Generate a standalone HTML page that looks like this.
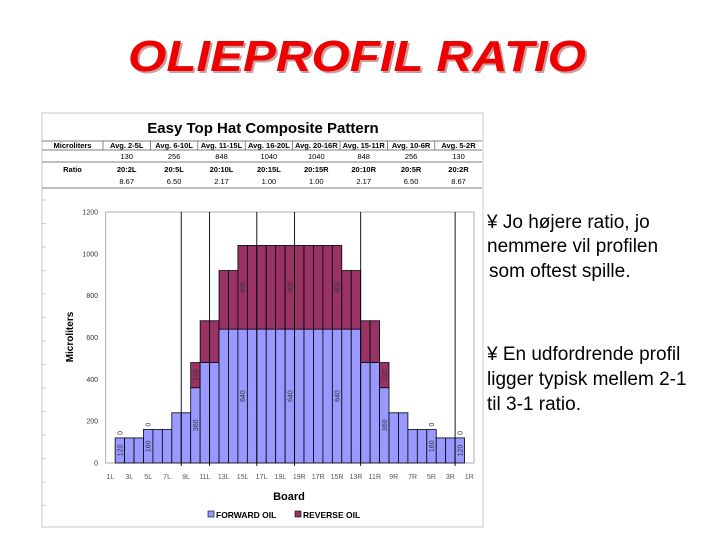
<!DOCTYPE html>
<html><head><meta charset="utf-8"><style>
html,body{margin:0;padding:0;background:#fff;}
svg{display:block;}
text{font-family:"Liberation Sans",Arial,sans-serif;}
</style></head><body>
<svg id="s" width="720" height="540" viewBox="0 0 720 540" xmlns="http://www.w3.org/2000/svg">
<text x="359" y="73" font-size="44" font-weight="bold" font-style="italic" fill="#c8a0a0" text-anchor="middle" textLength="458" lengthAdjust="spacingAndGlyphs">OLIEPROFIL RATIO</text>
<text x="357" y="71" font-size="44" font-weight="bold" font-style="italic" fill="#ee0000" text-anchor="middle" textLength="458" lengthAdjust="spacingAndGlyphs">OLIEPROFIL RATIO</text>

<g font-size="19" fill="#000">
<text x="487" y="228">&#165; Jo højere ratio, jo</text>
<text x="487" y="252">nemmere vil profilen</text>
<text x="489" y="277"> som oftest spille.</text>
<text x="487" y="360">&#165; En udfordrende profil</text>
<text x="487" y="385">ligger typisk mellem 2-1</text>
<text x="487" y="410">til 3-1 ratio.</text>
</g>

<rect x="42" y="113" width="441" height="414" fill="#fff" stroke="#c8c8c8"/>
<text x="263" y="133" font-size="15" font-weight="bold" text-anchor="middle">Easy Top Hat Composite Pattern</text>
<g id="table" font-size="7.5" text-anchor="middle"></g>
<g id="chart"></g>
</svg>
<script>
const boards = ["1L","2L","3L","4L","5L","6L","7L","8L","9L","10L","11L","12L","13L","14L","15L","16L","17L","18L","19L","20","19R","18R","17R","16R","15R","14R","13R","12R","11R","10R","9R","8R","7R","6R","5R","4R","3R","2R","1R"];
const forwardOil = [0,120,120,120,160,160,160,240,240,360,480,480,640,640,640,640,640,640,640,640,640,640,640,640,640,640,640,480,480,360,240,240,160,160,160,120,120,120,0];
const reverseOil = [0,0,0,0,0,0,0,0,0,120,200,200,280,280,400,400,400,400,400,400,400,400,400,400,400,280,280,200,200,120,0,0,0,0,0,0,0,0,0];
const yTicks = [0,200,400,600,800,1000,1200];
const tableHead = ["Microliters","Avg. 2-5L","Avg. 6-10L","Avg. 11-15L","Avg. 16-20L","Avg. 20-16R","Avg. 15-11R","Avg. 10-6R","Avg. 5-2R"];
const tableVals = ["","130","256","848","1040","1040","848","256","130"];
const tableRatio = ["Ratio","20:2L","20:5L","20:10L","20:15L","20:15R","20:10R","20:5R","20:2R"];
const tableRatioNum = ["","8.67","6.50","2.17","1.00","1.00","2.17","6.50","8.67"];

const NS="http://www.w3.org/2000/svg";
function mk(p,tag,a,txt){const e=document.createElementNS(NS,tag);for(const k in a)e.setAttribute(k,a[k]);if(txt!==undefined)e.textContent=txt;p.appendChild(e);return e;}

// table
const tb=document.getElementById('table');
const colX=[42,103];for(let i=1;i<=8;i++)colX.push(103+i*47.4);
const rowY=[141,150,162,188];
for(const y of rowY){const l=mk(tb,'line',{x1:42,x2:482,y1:y,y2:y,stroke:'#555','stroke-width':0.7});

}
for(const x of colX.slice(1,-1)){const l=mk(tb,'line',{x1:x,x2:x,y1:141,y2:150,stroke:'#555','stroke-width':0.7});

}
for(let i=0;i<9;i++){const cx=(colX[i]+colX[i+1])/2;
const a=mk(tb,'text',{x:cx,y:148,'font-weight':'bold'},tableHead[i]);


const b=mk(tb,'text',{x:cx,y:159},tableVals[i]);


const c=mk(tb,'text',{x:cx,y:172,'font-weight':'bold'},tableRatio[i]);


const d=mk(tb,'text',{x:cx,y:184},tableRatioNum[i]);

}

// chart
const g=document.getElementById('chart');
const X0=105.7,X1=474,Y0=463,Y1=212,YMAX=1200;
const cw=(X1-X0)/boards.length;
const xs=i=>X0+cw*i;
const ys=v=>Y0-(v/YMAX)*(Y0-Y1);
for(let i=0;i<14;i++){const l=mk(g,'line',{x1:42,x2:46,y1:200+i*23.5,y2:200+i*23.5,stroke:'#ccc'});

}
const pa=mk(g,'rect',{x:X0,y:Y1,width:X1-X0,height:Y0-Y1,fill:'#fff',stroke:'#999','stroke-width':0.8});


for(const t of yTicks){const tx=mk(g,'text',{x:98,y:ys(t)+2.5,'font-size':7,'text-anchor':'end',fill:'#333'},String(t));

}
for(let i=0;i<boards.length;i++){
 const f=forwardOil[i],r=reverseOil[i];
 if(f>0){const b=mk(g,'rect',{x:xs(i),y:ys(f),width:cw,height:Y0-ys(f),fill:'#9999ff',stroke:'#000','stroke-width':0.8});
 
 }
 if(r>0){const b=mk(g,'rect',{x:xs(i),y:ys(f+r),width:cw,height:ys(f)-ys(f+r),fill:'#993366',stroke:'#000','stroke-width':0.8});
 
 }
}
// data labels on selected boards
const labelIdx=[1,4,9,14,19,24,29,34,37];
for(const i of labelIdx){
 const cx=xs(i)+cw/2+2.5;
 const f=forwardOil[i],r=reverseOil[i];
 const fy=f>400?ys(f/2):(ys(f)+Y0)/2;
 const t=mk(g,'text',{x:cx,y:fy,'font-size':7,'text-anchor':'middle',fill:'#333',transform:`rotate(-90 ${cx} ${fy})`},String(f));
 
 
 const ry=r>0?(ys(f)+ys(f+r))/2:ys(f)-5;
 const t2=mk(g,'text',{x:cx,y:ry,'font-size':7,'text-anchor':'middle',fill:'#333',transform:`rotate(-90 ${cx} ${ry})`},String(r));
 
 
}
const lineAt=[8,11,16,20,27,37];
for(const k of lineAt){const l=mk(g,'line',{x1:xs(k),x2:xs(k),y1:Y1,y2:Y0+3,stroke:'#000','stroke-width':0.9});

}
for(let i=0;i<boards.length;i+=2){const t=mk(g,'text',{x:xs(i)+cw/2,y:479,'font-size':7,'text-anchor':'middle',fill:'#555'},boards[i]);

}
const xt=mk(g,'text',{x:289,y:500,'font-size':11,'font-weight':'bold','text-anchor':'middle'},'Board');


const yt=mk(g,'text',{x:73,y:337,'font-size':10,'font-weight':'bold','text-anchor':'middle',transform:'rotate(-90 73 337)'},'Microliters');


const l1=mk(g,'rect',{x:208,y:511,width:6,height:6,fill:'#9999ff',stroke:'#000','stroke-width':0.6});


const l1t=mk(g,'text',{x:216,y:518,'font-size':8.5,'font-weight':'bold'},'FORWARD OIL');


const l2=mk(g,'rect',{x:295,y:511,width:6,height:6,fill:'#993366',stroke:'#000','stroke-width':0.6});


const l2t=mk(g,'text',{x:303,y:518,'font-size':8.5,'font-weight':'bold'},'REVERSE OIL');


</script>
</body></html>
